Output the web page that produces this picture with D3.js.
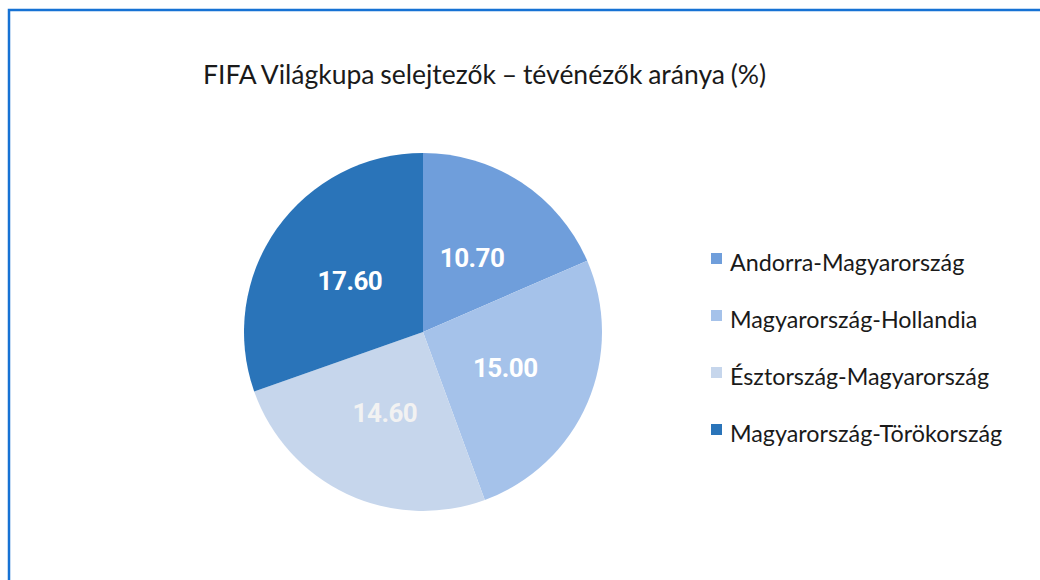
<!DOCTYPE html>
<html>
<head>
<meta charset="utf-8">
<script src="https://cdn.jsdelivr.net/npm/d3@7"></script>
<style>
  body { margin: 0; background: #fff; }
  svg { display: block; }
</style>
</head>
<body>
<main></main>
<script>
const matches = ["Andorra-Magyarország", "Magyarország-Hollandia", "Észtország-Magyarország", "Magyarország-Törökország"];
const shares = [10.70, 15.00, 14.60, 17.60];
const colors = ["#6f9edb", "#a5c2ea", "#c6d6ec", "#2a74b9"];
const labelColors = ["#ffffff", "#ffffff", "#f2f2f2", "#ffffff"];

const w = 1040;
const h = 580;

const svg = d3.select("main")
  .append("svg")
  .attr("width", w)
  .attr("height", h);

// blue frame, right and bottom edges run off the picture
svg.append("rect")
  .attr("x", 9)
  .attr("y", 10)
  .attr("width", w + 20)
  .attr("height", h + 20)
  .attr("fill", "none")
  .attr("stroke", "#1672d4")
  .attr("stroke-width", 2.5);

svg.append("text")
  .attr("x", 203)
  .attr("y", 84)
  .attr("fill", "#1a1a1a")
  .style("font-family", "Lato, 'Open Sans', sans-serif")
  .style("font-size", "26.5px")
  .style("word-spacing", "-1px")
  .text("FIFA Világkupa selejtezők – tévénézők aránya (%)");

const cx = 423;
const cy = 332;
const r = 179;

const data = matches.map((m, i) => ({ name: m, value: shares[i] }));

const pie = d3.pie()
  .sort(null)
  .value(d => d.value);

const arc = d3.arc()
  .innerRadius(0)
  .outerRadius(r);

const colorScale = d3.scaleOrdinal()
  .domain(matches)
  .range(colors);

const g = svg.append("g")
  .attr("transform", `translate(${cx},${cy})`);

const arcs = pie(data);

g.selectAll("path")
  .data(arcs)
  .enter()
  .append("path")
  .attr("d", arc)
  .attr("fill", d => colorScale(d.data.name));

g.selectAll("text")
  .data(arcs)
  .enter()
  .append("text")
  .attr("transform", d => `translate(${arc.centroid(d)})`)
  .attr("text-anchor", "middle")
  .attr("dy", "0.36em")
  .attr("fill", (d, i) => labelColors[i])
  .style("font-family", "Roboto, sans-serif")
  .style("font-weight", "bold")
  .style("font-size", "26px")
  .style("letter-spacing", "-0.5px")
  .text(d => d.data.value.toFixed(2));

const legendX = 711;
const legendY = 263;
const legendStep = 57;

const legend = svg.append("g");

legend.selectAll("rect")
  .data(matches)
  .enter()
  .append("rect")
  .attr("x", legendX)
  .attr("y", (d, i) => legendY + i * legendStep - 10)
  .attr("width", 11)
  .attr("height", 11)
  .attr("fill", d => colorScale(d));

legend.selectAll("text")
  .data(matches)
  .enter()
  .append("text")
  .attr("x", legendX + 19)
  .attr("y", (d, i) => legendY + i * legendStep + 8)
  .attr("fill", "#1a1a1a")
  .style("font-family", "Lato, 'Open Sans', sans-serif")
  .style("font-size", "23.3px")
  .text(d => d);
</script>
</body>
</html>
